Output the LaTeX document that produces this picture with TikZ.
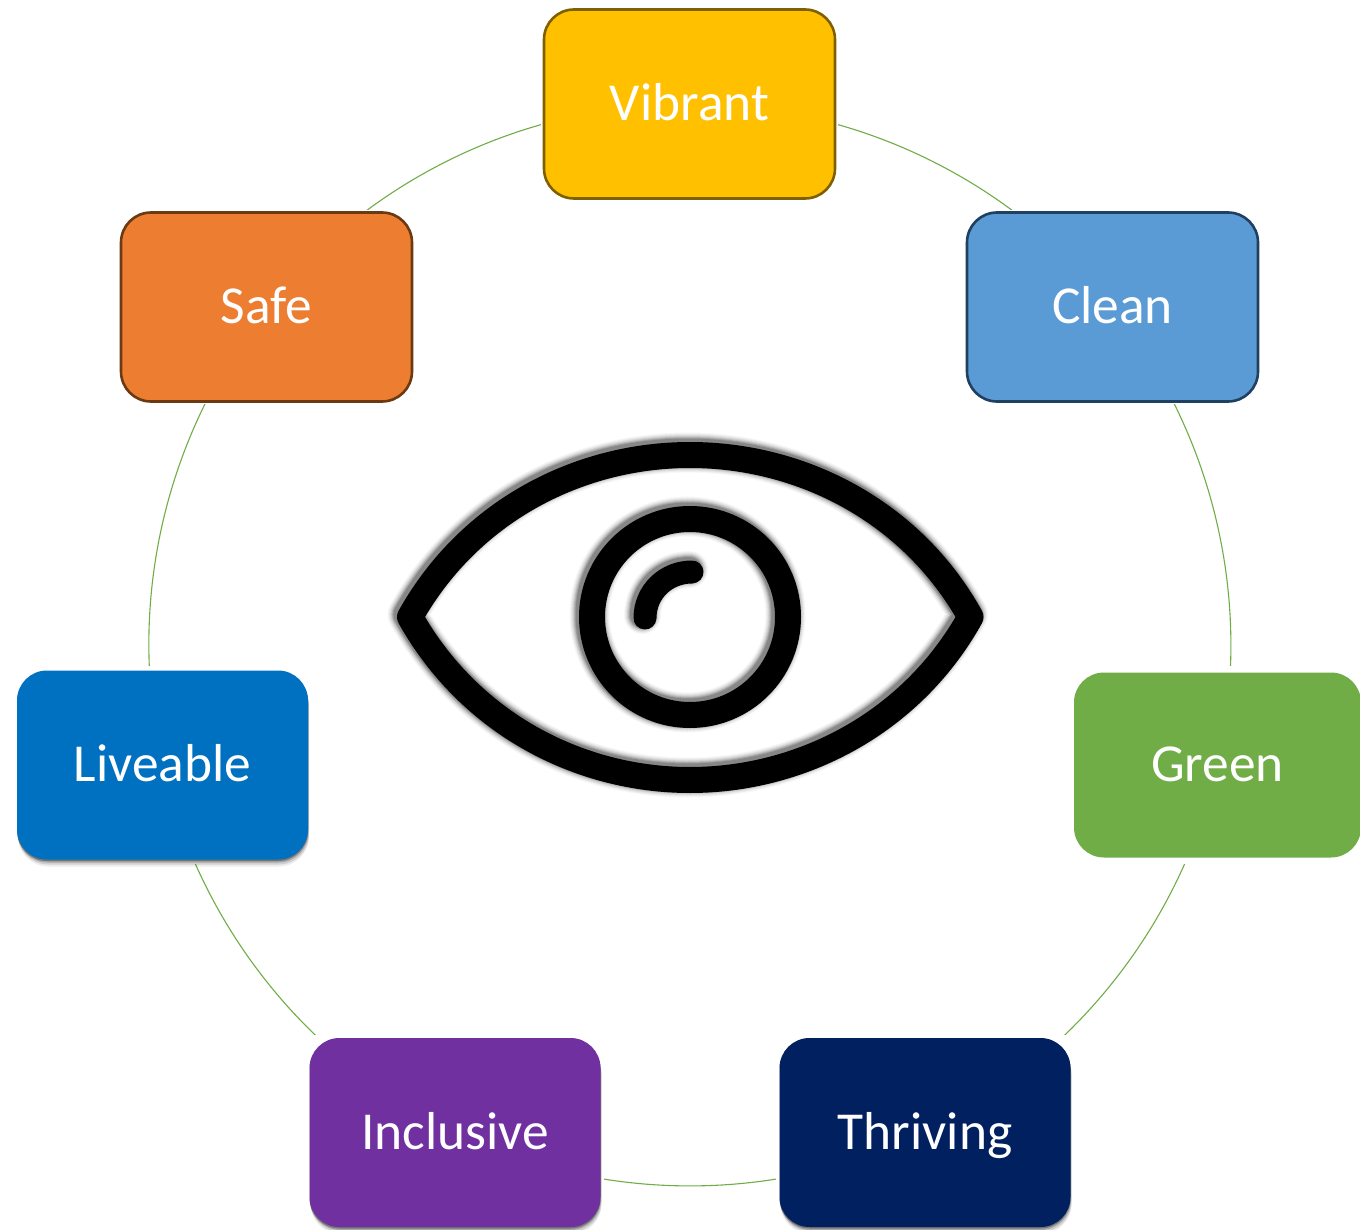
\documentclass[tikz,border=0pt]{standalone}
\usepackage{fontspec}
\setmainfont{Carlito}
\usetikzlibrary{backgrounds}
\definecolor{linegreen}{HTML}{70AD47}
\definecolor{cvibrant}{HTML}{FFC000}
\definecolor{lvibrant}{HTML}{7F6000}
\definecolor{cclean}{HTML}{5B9BD5}
\definecolor{lclean}{HTML}{1F4060}
\definecolor{csafe}{HTML}{ED7D31}
\definecolor{lsafe}{HTML}{6B3A12}
\definecolor{cgreen}{HTML}{70AD47}
\definecolor{cliveable}{HTML}{0070C0}
\definecolor{cinclusive}{HTML}{7030A0}
\definecolor{cthriving}{HTML}{002060}
\tikzset{
  x=1pt,y=-1pt,
  boxnode/.style={rounded corners=30pt,minimum width=291pt,minimum height=189pt,inner sep=0pt,
     text=white,font=\fontsize{53.4}{60}\selectfont,text height=33.5pt,text depth=0pt,line width=2.6pt},
  softshadow/.style={
     preaction={fill=black,fill opacity=.07,transform canvas={shift={(1pt,-7pt)}}},
     preaction={fill=black,fill opacity=.12,transform canvas={shift={(1pt,-5pt)}}},
     preaction={fill=black,fill opacity=.20,transform canvas={shift={(0.5pt,-3pt)}}},
     preaction={fill=black,fill opacity=.30,transform canvas={shift={(0pt,-1.5pt)}}}},
  conn/.style={draw=linegreen,line width=1.1pt,looseness=0.896},
}
\newcommand{\masknode}[2]{%
  \fill[white] ([shift={(-#2pt,-#2pt)}]#1.south west) rectangle ([shift={(#2pt,#2pt)}]#1.north east);
}
\newcommand{\eyepaths}[1]{%
  \draw[line cap=round,line join=round,#1] (410,617) .. controls (470,510) and (580,455) .. (690,455)
     .. controls (800,455) and (911,510) .. (970.5,617)
     .. controls (911,724) and (800,780) .. (690,780)
     .. controls (580,780) and (470,724) .. (410,617) -- cycle;
  \draw[line cap=round,#1] (690,617) circle[radius=98];
}
\newcommand{\eyehigh}[1]{%
  \draw[line cap=round,#1] (645,618) .. controls (645,592) and (666,572) .. (692,572);
}
\newcommand{\eyeblur}[2]{%
  \eyepaths{draw=black,draw opacity=#2,line width=#1}
  \eyehigh{draw=black,draw opacity=#2,line width=#1-3pt}
}
\begin{document}
\begin{tikzpicture}
\useasboundingbox (0,0) rectangle (1360,1230);
\clip (0,0) rectangle (1360,1230);
% boxes
\node[boxnode,fill=cvibrant,draw=lvibrant] (vibrant) at (689.5,104) {Vibrant};
\node[boxnode,fill=cclean,draw=lclean] (clean) at (1112.5,307) {Clean};
\node[boxnode,fill=csafe,draw=lsafe] (safe) at (266.5,307) {Safe};
\node[boxnode,fill=cgreen,minimum width=287pt,minimum height=185pt] (green) at (1217.5,765) {Green};
\node[boxnode,softshadow,fill=cthriving] (thriving) at (925,1132.5) {Thriving};
\node[boxnode,softshadow,fill=cinclusive] (inclusive) at (455,1132.5) {Inclusive};
\node[boxnode,softshadow,fill=cliveable] (liveable) at (162.5,765) {Liveable};
% ring of connectors, cut back to just outside each box
\begin{scope}[on background layer]
\fill[white] (0,0) rectangle (1360,1230);
\draw[conn] (vibrant.center) to[bend left=25.7] (clean.center);
\draw[conn] (clean.center) to[bend left=25.7] (green.center);
\draw[conn] (green.center) to[bend left=25.7] (thriving.center);
\draw[conn] (thriving.center) to[bend left=25.7] (inclusive.center);
\draw[conn] (inclusive.center) to[bend left=25.7] (liveable.center);
\draw[conn] (liveable.center) to[bend left=25.7] (safe.center);
\draw[conn] (safe.center) to[bend left=25.7] (vibrant.center);
\masknode{vibrant}{2}
\masknode{clean}{1.5}
\masknode{safe}{1.5}
\masknode{green}{5.5}
\masknode{thriving}{2}
\masknode{inclusive}{2}
\masknode{liveable}{3}
\end{scope}
% eye: soft shadow, then the strokes
\begin{scope}[transform canvas={shift={(-2.5pt,2.5pt)}}]
\eyeblur{40pt}{.03}
\eyeblur{38pt}{.04}
\eyeblur{36pt}{.05}
\eyeblur{34pt}{.07}
\eyeblur{32pt}{.10}
\eyeblur{30pt}{.13}
\eyeblur{28pt}{.16}
\end{scope}
\eyepaths{draw=black,line width=26pt}
\eyehigh{draw=black,line width=23pt}
\end{tikzpicture}
\end{document}
